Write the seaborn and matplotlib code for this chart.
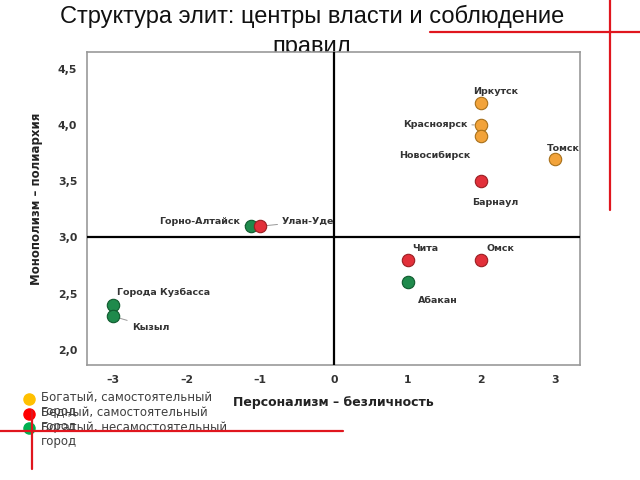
import matplotlib
matplotlib.use("Agg")
import matplotlib.pyplot as plt
from matplotlib.lines import Line2D
from matplotlib.ticker import FuncFormatter
import pandas as pd
import seaborn as sns

# data
cities = ["Иркутск", "Красноярск", "Новосибирск", "Томск",
          "Барнаул", "Улан-Уде", "Чита", "Омск",
          "Горно-Алтайск", "Абакан", "Города Кузбасса", "Кызыл"]
personalism = [2, 2, 2, 3, 2, -1.0, 1, 2, -1.12, 1, -3, -3]
monopolism = [4.2, 4.0, 3.9, 3.7, 3.5, 3.1, 2.8, 2.8, 3.1, 2.6, 2.4, 2.3]
group = ["rich", "rich", "rich", "rich",
         "poor", "poor", "poor", "poor",
         "dep", "dep", "dep", "dep"]

legend_labels = ["Богатый, самостоятельный\nгород",
                 "Бедный, самостоятельный\nгород",
                 "Богатый, несамостоятельный\nгород"]
x_ticks = [-3, -2, -1, 0, 1, 2, 3]
y_ticks = [2.0, 2.5, 3.0, 3.5, 4.0, 4.5]

# label placement (offset in pixels, alignment, leader line)
label_pos = {
    "Иркутск": (14, 11, "center", False),
    "Красноярск": (-14, 1, "right", True),
    "Новосибирск": (-46, -19, "center", False),
    "Томск": (8, 10, "center", False),
    "Барнаул": (14, -21, "center", False),
    "Горно-Алтайск": (-11, 5, "right", True),
    "Улан-Уде": (22, 5, "left", True),
    "Чита": (18, 11, "center", False),
    "Омск": (19, 11, "center", False),
    "Абакан": (30, -18, "center", False),
    "Города Кузбасса": (4, 12, "left", False),
    "Кызыл": (19, -11, "left", True),
}

df = pd.DataFrame({"city": cities, "x": personalism, "y": monopolism, "group": group})

sns.set_style("white")
plt.rcParams["font.family"] = ["DejaVu Sans"]

fig = plt.figure(figsize=(6.4, 4.8), dpi=100)
ax = fig.add_axes([0.1359, 0.2396, 0.7703, 0.6521])
ax.set_zorder(2)

fills = {"rich": "#F2A33A", "dep": "#1F8A4C", "poor": "#E2303A"}
edges = {"rich": "#A8701A", "dep": "#0F5A2E", "poor": "#9A1E22"}
for g in ["rich", "dep", "poor"]:
    sns.scatterplot(data=df[df["group"] == g], x="x", y="y", ax=ax,
                    color=fills[g], edgecolor=edges[g], linewidth=0.8,
                    s=80, legend=False, zorder=4)

for _, r in df.iterrows():
    dx, dy, ha, lead = label_pos[r["city"]]
    ax.annotate(r["city"], (r["x"], r["y"]), xytext=(dx, dy),
                textcoords="offset pixels", ha=ha, va="center",
                fontsize=6.8, fontweight="bold", color="#333333", zorder=2,
                arrowprops=dict(arrowstyle="-", color="#999999", lw=0.7,
                                shrinkA=1, shrinkB=5) if lead else None)

ax.axhline(3.0, color="black", lw=1.6, zorder=3)
ax.axvline(0, color="black", lw=1.6, zorder=3)

ax.set_xlim(-3.35, 3.34)
ax.set_ylim(1.866, 4.65)
ax.set_xticks(x_ticks)
ax.set_yticks(y_ticks)
ax.yaxis.set_major_formatter(FuncFormatter(lambda v, p: f"{v:.1f}".replace(".", ",")))
ax.xaxis.set_major_formatter(FuncFormatter(lambda v, p: f"{int(v)}".replace("-", "–")))
ax.tick_params(axis="both", direction="out", length=5, width=1, color="#888888",
               labelsize=7.8, labelcolor="#333333", pad=2)
for lab in ax.get_xticklabels() + ax.get_yticklabels():
    lab.set_fontweight("bold")
for sp in ax.spines.values():
    sp.set_color("#999999")
    sp.set_linewidth(1.2)

ax.set_xlabel("Персонализм – безличность", fontsize=9, fontweight="bold",
              color="#222222")
ax.set_ylabel("Монополизм – полиархия", fontsize=8.5, fontweight="bold",
              color="#222222")
ax.xaxis.set_label_coords(0.5, -0.1)
ax.yaxis.set_label_coords(-0.09, 0.53)

# slide title, second line partly hidden behind the chart
fig.text(0.4875, 0.99, "Структура элит: центры власти и соблюдение\nправил",
         ha="center", va="top", fontsize=17, family="Liberation Sans",
         color="#111111", linespacing=1.5, zorder=1)

# legend as on the slide (wrapped labels overlap)
leg_colors = ["#FFC000", "#FF0000", "#00B050"]
for i, (lab, c) in enumerate(zip(legend_labels, leg_colors)):
    ypx = 399 + 14.7 * i
    fig.add_artist(Line2D([29 / 640], [1 - ypx / 480], marker="o", markersize=8,
                          color=c, linestyle="none", transform=fig.transFigure))
    fig.text(41 / 640, 1 - (ypx - 7.5) / 480, lab, ha="left", va="top",
             fontsize=8.5, color="#404040", linespacing=1.1)

# decorative red lines of the slide
red = "#E0161E"
for xs, ys in [([430, 640], [32, 32]), ([610, 610], [0, 210]),
               ([0, 343], [431, 431]), ([32, 32], [410, 469])]:
    fig.add_artist(Line2D([v / 640 for v in xs], [1 - v / 480 for v in ys],
                          color=red, lw=1.6, transform=fig.transFigure, zorder=10))

fig.savefig("out.png", dpi=100)
